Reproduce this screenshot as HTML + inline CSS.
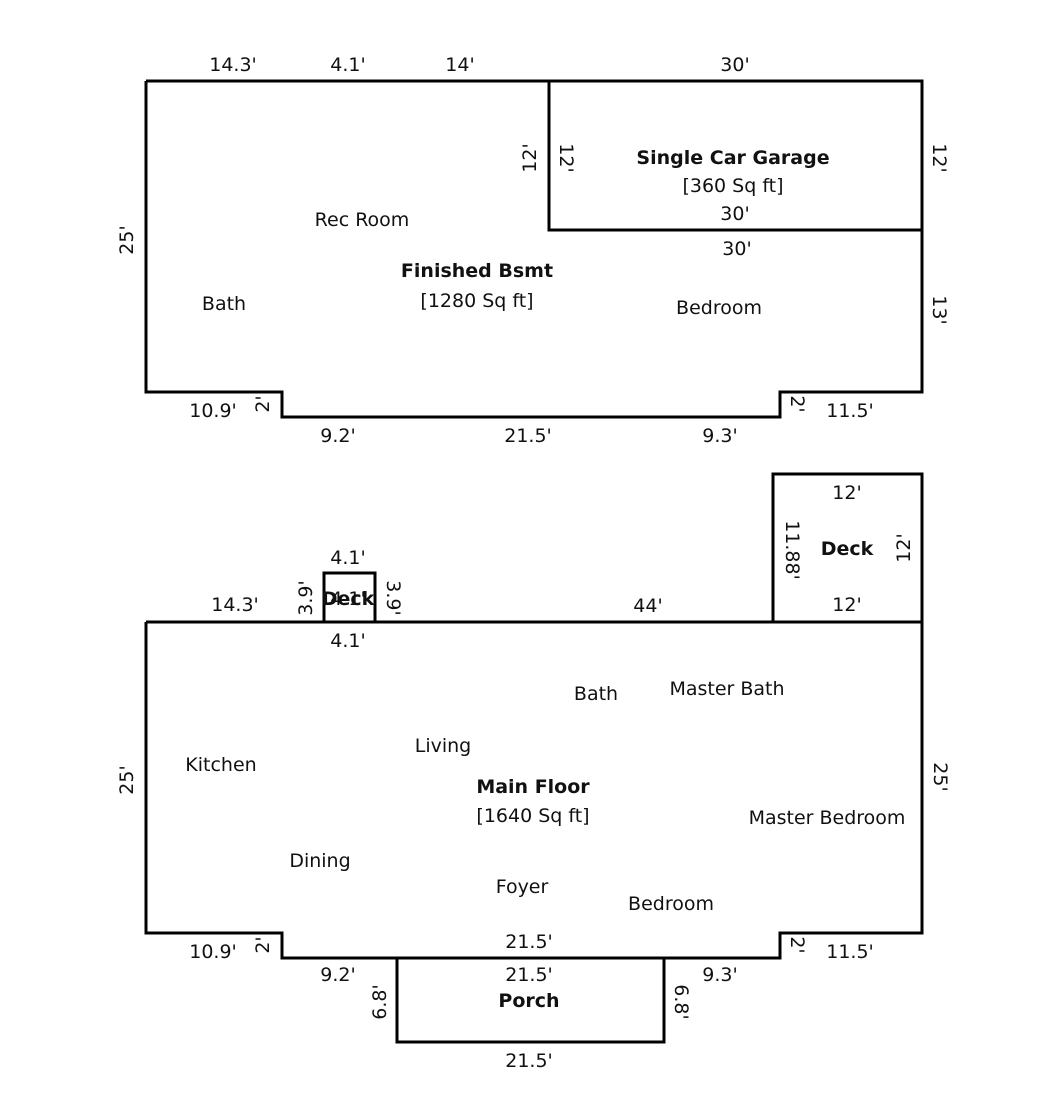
<!DOCTYPE html>
<html>
<head>
<meta charset="utf-8">
<style>
  html, body { margin: 0; padding: 0; background: #fff; }
  svg { display: block; }
  text { font-family: "DejaVu Sans", "Liberation Sans", sans-serif; font-size: 19px; fill: #111; }
  .b { font-weight: bold; }
</style>
</head>
<body>
<svg width="1047" height="1103" viewBox="0 0 1047 1103" xmlns="http://www.w3.org/2000/svg">
  <rect x="0" y="0" width="1047" height="1103" fill="#fff"/>
  <g fill="none" stroke="#000" stroke-width="3" stroke-linejoin="miter">
    <!-- Basement outline -->
    <polyline points="146,81 922,81 922,392 780,392 780,417 282,417 282,392 146,392 146,81"/>
    <!-- Garage -->
    <polyline points="549,81 549,230 922,230"/>
    <!-- Main floor outline -->
    <polyline points="146,622 922,622 922,933 780,933 780,958 282,958 282,933 146,933 146,622"/>
    <!-- Small deck -->
    <polyline points="324,622 324,573 375,573 375,622"/>
    <!-- Right deck -->
    <polyline points="773,622 773,474 922,474 922,622"/>
    <!-- Porch -->
    <polyline points="397,958 397,1042 664,1042 664,958"/>
  </g>

  <g text-anchor="middle">
    <!-- Basement -->
    <text x="233" y="71">14.3'</text>
    <text x="348" y="71">4.1'</text>
    <text x="460" y="71">14'</text>
    <text x="735" y="71">30'</text>
    <text class="b" x="733" y="164">Single Car Garage</text>
    <text x="733" y="192">[360 Sq ft]</text>
    <text x="735" y="220">30'</text>
    <text x="737" y="255">30'</text>
    <text x="362" y="226">Rec Room</text>
    <text class="b" x="477" y="277">Finished Bsmt</text>
    <text x="477" y="307">[1280 Sq ft]</text>
    <text x="224" y="310">Bath</text>
    <text x="719" y="314">Bedroom</text>
    <text x="213" y="417">10.9'</text>
    <text x="850" y="417">11.5'</text>
    <text x="338" y="442">9.2'</text>
    <text x="528" y="442">21.5'</text>
    <text x="720" y="442">9.3'</text>

    <!-- Basement rotated -->
    <text dominant-baseline="central" transform="translate(127,240) rotate(-90)">25'</text>
    <text dominant-baseline="central" transform="translate(530,158) rotate(-90)">12'</text>
    <text dominant-baseline="central" transform="translate(566,158) rotate(90)">12'</text>
    <text dominant-baseline="central" transform="translate(939,158) rotate(90)">12'</text>
    <text dominant-baseline="central" transform="translate(939,310) rotate(90)">13'</text>
    <text dominant-baseline="central" transform="translate(263,404) rotate(-90)">2'</text>
    <text dominant-baseline="central" transform="translate(797,404) rotate(90)">2'</text>

    <!-- Main floor -->
    <text x="348" y="564">4.1'</text>
    <text x="235" y="611">14.3'</text>
    <text x="348" y="605">4.1'</text>
    <text class="b" x="348" y="605">Deck</text>
    <text x="348" y="647">4.1'</text>
    <text x="648" y="612">44'</text>
    <text x="847" y="499">12'</text>
    <text class="b" x="847" y="555">Deck</text>
    <text x="847" y="611">12'</text>
    <text x="596" y="700">Bath</text>
    <text x="727" y="695">Master Bath</text>
    <text x="443" y="752">Living</text>
    <text x="221" y="771">Kitchen</text>
    <text class="b" x="533" y="793">Main Floor</text>
    <text x="533" y="822">[1640 Sq ft]</text>
    <text x="827" y="824">Master Bedroom</text>
    <text x="320" y="867">Dining</text>
    <text x="522" y="893">Foyer</text>
    <text x="671" y="910">Bedroom</text>
    <text x="213" y="958">10.9'</text>
    <text x="529" y="948">21.5'</text>
    <text x="850" y="958">11.5'</text>
    <text x="338" y="981">9.2'</text>
    <text x="529" y="981">21.5'</text>
    <text x="720" y="981">9.3'</text>
    <text class="b" x="529" y="1007">Porch</text>
    <text x="529" y="1067">21.5'</text>

    <!-- Main floor rotated -->
    <text dominant-baseline="central" transform="translate(306,598) rotate(-90)">3.9'</text>
    <text dominant-baseline="central" transform="translate(393,598) rotate(90)">3.9'</text>
    <text dominant-baseline="central" transform="translate(792,550) rotate(90)">11.88'</text>
    <text dominant-baseline="central" transform="translate(904,548) rotate(-90)">12'</text>
    <text dominant-baseline="central" transform="translate(127,780) rotate(-90)">25'</text>
    <text dominant-baseline="central" transform="translate(940,777) rotate(90)">25'</text>
    <text dominant-baseline="central" transform="translate(263,945) rotate(-90)">2'</text>
    <text dominant-baseline="central" transform="translate(797,945) rotate(90)">2'</text>
    <text dominant-baseline="central" transform="translate(380,1002) rotate(-90)">6.8'</text>
    <text dominant-baseline="central" transform="translate(681,1002) rotate(90)">6.8'</text>
  </g>
</svg>
</body>
</html>
